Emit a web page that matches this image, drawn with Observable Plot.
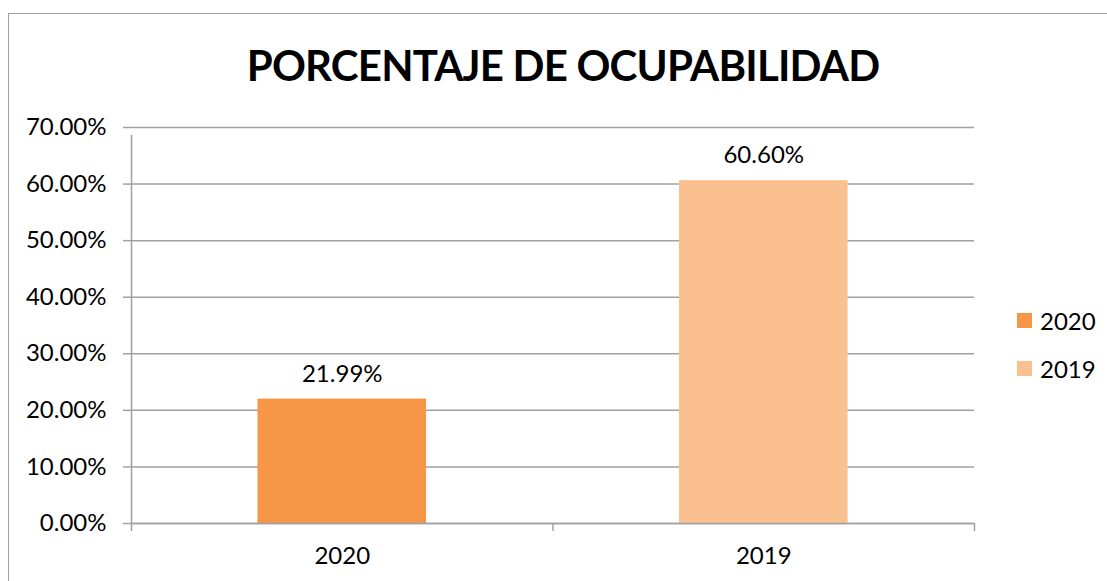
<!DOCTYPE html>
<html><head><meta charset="utf-8">
<script src="https://cdn.jsdelivr.net/npm/d3@7"></script>
<script src="https://cdn.jsdelivr.net/npm/@observablehq/plot@0.6"></script>
<style>
body{margin:0;background:#fff;font-family:Lato,sans-serif;}
#wrap{position:relative;width:1107px;height:581px;overflow:hidden;background:#fff;}
#border{position:absolute;left:8px;top:13px;width:1300px;height:800px;border:1.5px solid #a0a0a0;box-sizing:border-box;}
#title{position:absolute;left:0;width:1126px;top:40px;text-align:center;font-weight:bold;font-size:42px;line-height:50px;letter-spacing:-0.8px;color:#000;}
#chart{position:absolute;left:0;top:0;}
.leg{position:absolute;left:1017px;height:20px;display:flex;align-items:center;font-size:24px;color:#000;}
.leg span.sw{display:inline-block;width:15px;height:15px;margin-right:8px;}
</style></head>
<body>
<div id="wrap">
  <div id="border"></div>
  <div id="chart"></div>
  <div id="title"></div>
  <div id="legend"></div>
</div>
<script>
const title = "PORCENTAJE DE OCUPABILIDAD";
const categories = ["2020", "2019"];
const values = [0.2199, 0.606];
const colors = ["#F79646", "#FAC090"];
const yTicks = [0, 0.1, 0.2, 0.3, 0.4, 0.5, 0.6, 0.7];

const data = categories.map((c, i) => ({i, cat: c, value: values[i], color: colors[i]}));
const pct = d => (d * 100).toFixed(2) + "%";
const grid = "#a0a0a0";

document.getElementById("title").textContent = title;

const chart = Plot.plot({
  width: 1107, height: 581,
  marginLeft: 131, marginRight: 133, marginTop: 127, marginBottom: 58,
  style: {fontFamily: "Lato, sans-serif", fontSize: "24px", color: "#000", background: "transparent"},
  x: {domain: [0, categories.length]},
  y: {domain: [0, 0.7]},
  color: {type: "identity"},
  marks: [
    Plot.ruleY(yTicks, {x1: 0, x2: categories.length, stroke: grid, strokeWidth: 1.5}),
    Plot.rectY(data, {x1: d => d.i + 0.3, x2: d => d.i + 0.7, y1: 0, y2: "value", fill: "color"}),
    Plot.ruleY([0], {x1: 0, x2: categories.length, stroke: grid, strokeWidth: 1.5}),
    Plot.ruleX([0], {y1: 0, y2: 0.7, insetBottom: -8, stroke: grid, strokeWidth: 1.5}),
    Plot.axisY({ticks: yTicks, tickSize: 8, tickPadding: 17, tickFormat: pct, label: null,
      stroke: grid, strokeWidth: 1.5, fill: "#000", fontSize: 24}),
    Plot.axisX({ticks: d3.range(categories.length + 1), tickSize: 8, tickFormat: () => "", label: null,
      stroke: grid, strokeWidth: 1.5}),
    Plot.text(data, {x: d => d.i + 0.5, y: 0, text: "cat", dy: 33, fontSize: 24, fill: "#000"}),
    Plot.text(data, {x: d => d.i + 0.5, y: "value", text: d => pct(d.value), dy: -25, fontSize: 24, fill: "#000"})
  ]
});
document.getElementById("chart").appendChild(chart);

const legend = document.getElementById("legend");
categories.forEach((c, i) => {
  const el = document.createElement("div");
  el.className = "leg";
  el.style.top = (310 + i * 48) + "px";
  el.innerHTML = `<span class="sw" style="background:${colors[i]}"></span><span>${c}</span>`;
  legend.appendChild(el);
});
</script>
</body></html>
